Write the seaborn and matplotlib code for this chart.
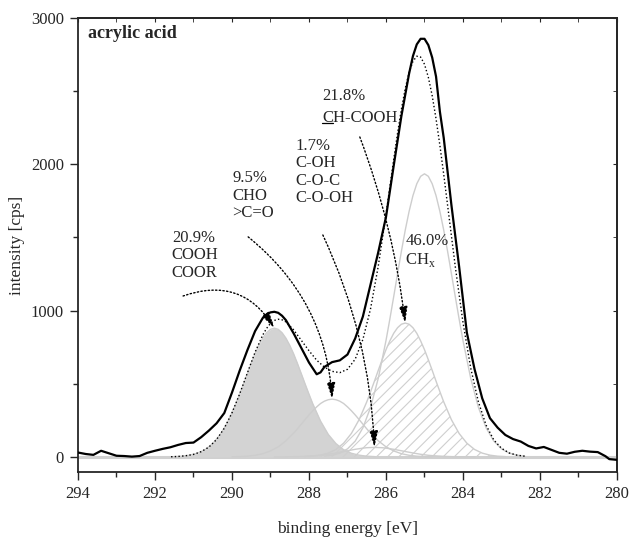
import numpy as np
import pandas as pd
import matplotlib
matplotlib.use("Agg")
import matplotlib.pyplot as plt
from matplotlib.lines import Line2D
import seaborn as sns

energy = [294.0, 293.8, 293.6, 293.4, 293.2, 293.0, 292.8, 292.6, 292.4, 292.2,
          292.0, 291.8, 291.6, 291.4, 291.2, 291.0, 290.8, 290.6, 290.4, 290.2,
          290.0, 289.8, 289.6, 289.4, 289.2, 289.1, 289.0, 288.9, 288.8, 288.7,
          288.6, 288.4, 288.2, 288.0, 287.8, 287.7, 287.6, 287.4, 287.2, 287.0,
          286.8, 286.6, 286.4, 286.2, 286.0, 285.8, 285.6, 285.4, 285.3, 285.2,
          285.1, 285.0, 284.9, 284.8, 284.7, 284.6, 284.5, 284.4, 284.3, 284.1,
          283.9, 283.7, 283.5, 283.3, 283.1, 282.9, 282.7, 282.5, 282.3, 282.1,
          281.9, 281.7, 281.5, 281.3, 281.1, 280.9, 280.7, 280.5, 280.3, 280.2,
          280.0]
intensity = [30, 20, 14, 42, 25, 8, 6, 2, 6, 28,
             42, 55, 66, 82, 95, 98, 135, 180, 230, 300,
             440, 590, 730, 860, 950, 975, 988, 992, 985, 965,
             935, 845, 745, 645, 565, 578, 615, 648, 660, 700,
             810, 960, 1180, 1400, 1640, 1990, 2330, 2620, 2740, 2820,
             2858, 2858, 2815, 2730, 2600, 2360, 2180, 1950, 1720, 1300,
             850, 600, 400, 265, 200, 150, 122, 105, 75, 58,
             68, 48, 28, 22, 35, 42, 36, 33, 5, -15,
             -20]

# fitted components, sampled at the same offsets (eV) around each peak centre
offsets = [-2.6, -2.4, -2.2, -2.0, -1.8, -1.6, -1.4, -1.2, -1.0,
           -0.9, -0.8, -0.7, -0.6, -0.5, -0.4, -0.3, -0.2, -0.1, 0.0,
           0.1, 0.2, 0.3, 0.4, 0.5, 0.6, 0.7, 0.8, 0.9,
           1.0, 1.2, 1.4, 1.6, 1.8, 2.0, 2.2, 2.4, 2.6]
comp_center = [288.9, 287.4, 286.3, 285.5, 285.0]
comp_height = [880, 395, 65, 915, 1935]
comp_cooh = [2, 5, 12, 25, 49, 91, 154, 245, 362, 429, 498, 569, 639, 705, 763, 812, 849, 872,
             880, 872, 849, 812, 763, 705, 639, 569, 498, 429, 362, 245, 154, 91, 49, 25, 12, 5, 2]
comp_cho = [1, 2, 5, 11, 22, 41, 69, 110, 162, 192, 224, 256, 287, 316, 342, 365, 381, 391,
            395, 391, 381, 365, 342, 316, 287, 256, 224, 192, 162, 110, 69, 41, 22, 11, 5, 2, 1]
comp_coh = [0, 0, 1, 2, 4, 7, 11, 18, 27, 32, 37, 42, 47, 52, 56, 60, 63, 64,
            65, 64, 63, 60, 56, 52, 47, 42, 37, 32, 27, 18, 11, 7, 4, 2, 1, 0, 0]
comp_chcooh = [2, 5, 12, 26, 51, 94, 160, 254, 376, 446, 518, 592, 664, 733, 793, 845, 883, 907,
               915, 907, 883, 845, 793, 733, 664, 592, 518, 446, 376, 254, 160, 94, 51, 26, 12, 5, 2]
comp_chx = [5, 12, 26, 55, 108, 199, 339, 538, 795, 942, 1095, 1252, 1405, 1550, 1678, 1786, 1867, 1918,
            1935, 1918, 1867, 1786, 1678, 1550, 1405, 1252, 1095, 942, 795, 538, 339, 199, 108, 55, 26, 12, 5]

# sum of the components (dotted envelope)
env_energy = [291.6, 291.4, 291.2, 291.0, 290.8, 290.6, 290.4, 290.2, 290.0, 289.8,
              289.6, 289.4, 289.2, 289.1, 289.0, 288.9, 288.8, 288.7, 288.6, 288.4,
              288.2, 288.0, 287.8, 287.6, 287.4, 287.2, 287.0, 286.8, 286.6, 286.4,
              286.2, 286.0, 285.8, 285.7, 285.6, 285.5, 285.4, 285.3, 285.2, 285.1,
              285.0, 284.9, 284.8, 284.7, 284.6, 284.5, 284.4, 284.2, 284.0, 283.8,
              283.6, 283.4, 283.2, 283.0, 282.8, 282.6, 282.4]
env_intensity = [1, 3, 8, 17, 36, 67, 119, 196, 301, 431,
                 574, 716, 834, 879, 913, 933, 941, 937, 923, 869,
                 797, 726, 661, 614, 585, 576, 599, 668, 803, 1014,
                 1305, 1657, 2033, 2212, 2376, 2518, 2628, 2704, 2739, 2733,
                 2684, 2595, 2469, 2311, 2129, 1930, 1720, 1300, 919, 608,
                 376, 217, 116, 59, 27, 12, 5]

background = 0

labels = ["20.9%\nCOOH\nCOOR", "9.5%\nCHO\n>C=O", "1.7%\nC-OH\nC-O-C\nC-O-OH", "21.8%"]

sns.set_style("ticks")
plt.rcParams['font.family'] = ['Liberation Serif', 'DejaVu Serif']
plt.rcParams['mathtext.fontset'] = 'custom'
plt.rcParams['mathtext.rm'] = 'Liberation Serif'
plt.rcParams['hatch.color'] = '#cfcfcf'
plt.rcParams['hatch.linewidth'] = 0.8

fig = plt.figure(figsize=(6.31, 5.38), dpi=100)
ax = fig.add_axes([0.1236, 0.1227, 0.8542, 0.8438])

grey = '#cdcdcd'
comps = [comp_cooh, comp_cho, comp_coh, comp_chcooh, comp_chx]
dfs = []
for c, vals in zip(comp_center, comps):
    dfs.append(pd.DataFrame({'E': [c + o for o in offsets], 'I': vals}))

# baseline
ax.axhline(background, color='#d0d0d0', lw=2.2, zorder=1)

# COOH filled, CH-COOH hatched
ax.fill_between(dfs[0]['E'], background, dfs[0]['I'], color='#d3d3d3', lw=0, zorder=2)
ax.fill_between(dfs[3]['E'], background, dfs[3]['I'], facecolor='none',
                edgecolor='#cfcfcf', hatch='///', lw=0, zorder=2)
for d in dfs:
    sns.lineplot(data=d, x='E', y='I', ax=ax, color=grey, lw=1.0, estimator=None, zorder=3)

sns.lineplot(x=env_energy, y=env_intensity, ax=ax, color='black', lw=1.0,
             linestyle=':', estimator=None, zorder=4)
sns.lineplot(x=energy, y=intensity, ax=ax, color='black', lw=1.6, estimator=None, zorder=5)
for ln in ax.lines:
    ln.set_solid_joinstyle('round')

ax.set_xlim(294, 280)
ax.set_ylim(-103, 3000)
ax.set_xticks(np.arange(294, 279, -2))
ax.set_xticks(np.arange(294, 279, -1), minor=True)
ax.set_yticks([0, 1000, 2000, 3000])
ax.set_yticks(np.arange(0, 3001, 500), minor=True)
ax.tick_params(which='major', direction='out', length=6, width=1.0, labelsize=12, pad=4)
ax.tick_params(which='minor', direction='out', length=3.5, width=1.0)
for s in ax.spines.values():
    s.set_linewidth(1.3)

secx = ax.secondary_xaxis('top')
secx.set_xticks(np.arange(294, 279, -2))
secx.set_xticks(np.arange(294, 279, -1), minor=True)
secx.tick_params(which='both', direction='in', length=3, labeltop=False)
secy = ax.secondary_yaxis('right')
secy.set_yticks([0, 1000, 2000, 3000])
secy.set_yticks(np.arange(0, 3001, 500), minor=True)
secy.tick_params(which='both', direction='in', length=3, labelright=False)
secx.spines['top'].set_linewidth(1.3)
secy.spines['right'].set_linewidth(1.3)

ax.set_xlabel('binding energy [eV]', fontsize=12.5, labelpad=14)
ax.set_ylabel('intensity [cps]', fontsize=12.5, labelpad=4)

ax.text(0.0186, 0.985, 'acrylic acid', transform=ax.transAxes, fontsize=13,
        fontweight='bold', va='top', ha='left')

# labels and dotted arrows to the peak maxima
txt_pos = [(0.174, 0.533), (0.286, 0.665), (0.404, 0.736), (0.453, 0.846)]
for lab, (tx, ty) in zip(labels, txt_pos):
    ax.text(tx, ty, lab, transform=ax.transAxes, fontsize=12, va='top', ha='left',
            linespacing=1.12)
t_ch = ax.text(0.453, 0.797, 'CH-COOH', transform=ax.transAxes, fontsize=12,
               va='top', ha='left')
t_c = ax.text(0.453, 0.797, 'C', transform=ax.transAxes, fontsize=12,
              va='top', ha='left', alpha=0)
ax.text(0.607, 0.526, '46.0%\nCH$_{\\rm x}$', transform=ax.transAxes, fontsize=12,
        va='top', ha='left', linespacing=1.12)

arrow_start = [(291.27, 1100), (289.58, 1504), (287.64, 1517), (286.68, 2187)]
arrow_rad = [-0.4, -0.22, -0.1, -0.06]
for i, ((sx, sy), rad) in enumerate(zip(arrow_start, arrow_rad)):
    ax.annotate('', xy=(comp_center[i], comp_height[i]), xytext=(sx, sy),
                arrowprops=dict(arrowstyle='-|>,head_length=0.7,head_width=0.18',
                                linestyle=':', color='black', lw=1.0,
                                connectionstyle=f'arc3,rad={rad}',
                                shrinkA=0, shrinkB=0, mutation_scale=14),
                zorder=6)

fig.canvas.draw()
bb = t_c.get_window_extent()
W, H = fig.canvas.get_width_height()
fig.add_artist(Line2D([bb.x0 / W, bb.x1 / W], [(bb.y0 + 3) / H, (bb.y0 + 3) / H],
                      transform=fig.transFigure, color='black', lw=0.9))

fig.savefig('out.png', dpi=100)
